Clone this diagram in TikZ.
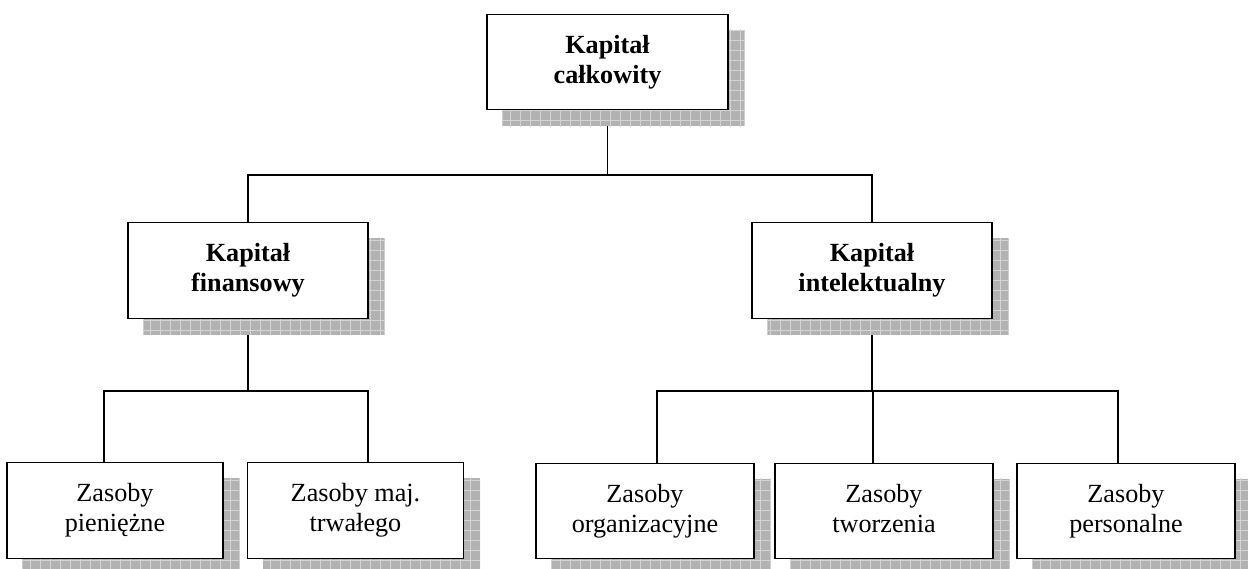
\documentclass[tikz,border=0pt]{standalone}
\usepackage{fontspec}
\setmainfont{Liberation Serif}
\usetikzlibrary{calc}
\pgfdeclarelayer{wires}
\pgfdeclarelayer{shades}
\pgfsetlayers{wires,shades,main}

\tikzset{
  unitbox/.style={draw, line width=1.2pt, fill=white, inner sep=0pt, align=center,
    font=\fontsize{26.2}{30}\selectfont},
  headbox/.style={unitbox, font=\fontsize{26.2}{30}\selectfont\bfseries,
    minimum width=240pt, minimum height=95.5pt},
  leafbox/.style={unitbox, minimum width=216pt, minimum height=95.5pt},
  wire/.style={line width=1.2pt},
  shadefill/.style={fill=black!30},
  shadegrid/.style={draw=black!17, line width=0.8pt},
}

% two text lines with equal struts, so every box sets them at the same height
\newcommand\twolines[2]{\strut#1\\\strut#2}

% grey hatched drop shadow behind a box
\newcommand\dropshade[1]{%
  \begin{scope}
    \clip ($(#1.north west)+(16,16)$) rectangle ($(#1.south east)+(16,16)$);
    \fill[shadefill] ($(#1.north west)+(16,16)$) rectangle ($(#1.south east)+(16,16)$);
    \draw[shadegrid, step=10pt] ($(#1.north west)+(6,6)$) grid ($(#1.south east)+(26,26)$);
  \end{scope}}

\begin{document}
\begin{tikzpicture}[x=1pt, y=-1pt]
\useasboundingbox (0,0) rectangle (1248,568);

% boxes
\node[headbox, minimum width=241pt] (top) at (607.5,62) {\twolines{Kapitał}{całkowity}};
\node[headbox] (fin) at (248,270.5) {\twolines{Kapitał}{finansowy}};
\node[headbox] (int) at (872,270.5) {\twolines{Kapitał}{intelektualny}};

\node[leafbox] (b1) at (115,510.5) {\twolines{Zasoby}{pieniężne}};
\node[leafbox] (b2) at (355.5,510.5) {\twolines{Zasoby maj.}{trwałego}};
\node[leafbox, minimum width=218pt] (b3) at (645,511) {\twolines{Zasoby}{organizacyjne}};
\node[leafbox, minimum width=218pt] (b4) at (884,511) {\twolines{Zasoby}{tworzenia}};
\node[leafbox, minimum width=218pt] (b5) at (1126,511) {\twolines{Zasoby}{personalne}};

% shadows
\begin{pgfonlayer}{shades}
  \foreach \n in {top,fin,int,b1,b2,b3,b4,b5} {\dropshade{\n}}
\end{pgfonlayer}

% connectors
\coordinate (busT) at (0,175);
\coordinate (busF) at (0,391);
\coordinate (d1) at ($(b1.north)+(-11,0)$);
\coordinate (d2) at ($(b2.north)+(12.5,0)$);
\coordinate (d3) at ($(b3.north)+(12,0)$);
\coordinate (d4) at ($(b4.north)+(-11,0)$);
\coordinate (d5) at ($(b5.north)+(-8,0)$);

\begin{pgfonlayer}{wires}
  \draw[wire] (top.south) -- (top.south |- busT);
  \draw[wire] (fin.north) -- (fin.north |- busT) -- (int.north |- busT) -- (int.north);
  \draw[wire] (fin.south) -- (fin.south |- busF);
  \draw[wire] (d1) -- (d1 |- busF) -- (d2 |- busF) -- (d2);
  \draw[wire] (int.south) -- (int.south |- busF);
  \draw[wire] (d3) -- (d3 |- busF) -- (d5 |- busF) -- (d5);
  \draw[wire] (d4) -- (d4 |- busF);
\end{pgfonlayer}
\end{tikzpicture}
\end{document}
